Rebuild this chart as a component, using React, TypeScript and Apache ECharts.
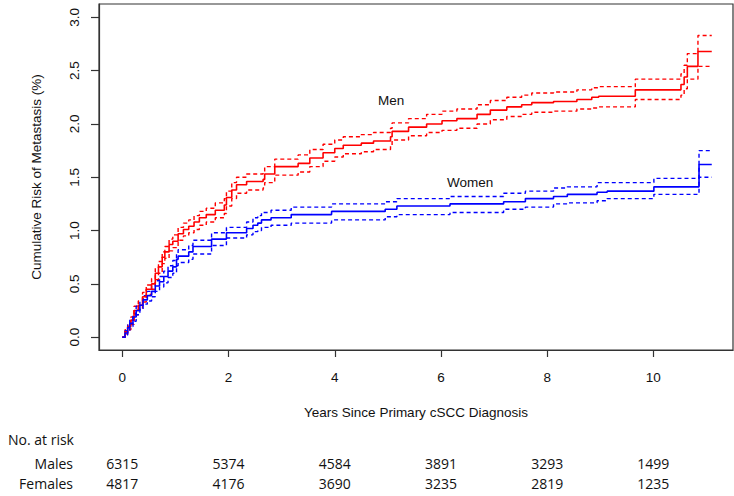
import React, { useEffect, useRef } from "react";
import * as echarts from "echarts";

// Tick values / risk table
const years = [0, 2, 4, 6, 8, 10];
const yTicks = [0, 0.5, 1, 1.5, 2, 2.5, 3];
const malesAtRisk = [6315, 5374, 4584, 3891, 3293, 1499];
const femalesAtRisk = [4817, 4176, 3690, 3235, 2819, 1235];

// Men: step times (years), cumulative risk (%), lower and upper 95% CI
const menTimes = [0, 0.05, 0.1, 0.16, 0.22, 0.3, 0.38, 0.45, 0.55, 0.62, 0.68, 0.75, 0.8, 0.88, 0.95, 1.05, 1.15, 1.25, 1.35, 1.45, 1.58, 1.75, 1.92, 1.96, 2.06, 2.15, 2.34, 2.65, 2.68, 2.87, 3.31, 3.53, 3.78, 4.0, 4.16, 4.5, 4.73, 5.05, 5.08, 5.39, 5.73, 6.02, 6.3, 6.68, 6.93, 7.24, 7.52, 7.71, 8.12, 8.56, 8.84, 8.97, 9.66, 10.52, 10.58, 10.64, 10.84, 11.1];
const menRisk = [0, 0.05, 0.1, 0.16, 0.25, 0.3, 0.38, 0.45, 0.5, 0.6, 0.66, 0.75, 0.8, 0.87, 0.9, 0.97, 1.01, 1.04, 1.08, 1.12, 1.15, 1.19, 1.24, 1.31, 1.38, 1.43, 1.46, 1.48, 1.53, 1.6, 1.63, 1.68, 1.73, 1.77, 1.8, 1.82, 1.84, 1.88, 1.93, 1.97, 2.0, 2.03, 2.05, 2.09, 2.13, 2.16, 2.18, 2.2, 2.21, 2.23, 2.25, 2.26, 2.32, 2.37, 2.44, 2.54, 2.68, 2.68];
const menLower = [0, 0.03, 0.07, 0.12, 0.21, 0.26, 0.33, 0.4, 0.45, 0.54, 0.6, 0.69, 0.74, 0.81, 0.84, 0.91, 0.95, 0.98, 1.01, 1.05, 1.08, 1.12, 1.16, 1.23, 1.3, 1.35, 1.38, 1.4, 1.45, 1.52, 1.55, 1.6, 1.65, 1.69, 1.72, 1.74, 1.76, 1.8, 1.85, 1.89, 1.92, 1.94, 1.96, 2.0, 2.04, 2.07, 2.09, 2.11, 2.12, 2.14, 2.15, 2.16, 2.23, 2.27, 2.33, 2.42, 2.54, 2.54];
const menUpper = [0, 0.07, 0.13, 0.19, 0.29, 0.34, 0.42, 0.49, 0.55, 0.65, 0.71, 0.8, 0.85, 0.92, 0.96, 1.03, 1.07, 1.1, 1.14, 1.18, 1.21, 1.26, 1.3, 1.37, 1.45, 1.5, 1.53, 1.55, 1.6, 1.67, 1.71, 1.76, 1.81, 1.85, 1.88, 1.9, 1.92, 1.96, 2.01, 2.05, 2.09, 2.12, 2.14, 2.18, 2.22, 2.25, 2.27, 2.29, 2.3, 2.32, 2.34, 2.35, 2.42, 2.47, 2.55, 2.66, 2.83, 2.83];

// Women
const womenTimes = [0, 0.05, 0.1, 0.14, 0.2, 0.26, 0.33, 0.39, 0.47, 0.55, 0.62, 0.7, 0.78, 0.86, 0.95, 1.02, 1.05, 1.25, 1.33, 1.68, 1.96, 2.34, 2.46, 2.55, 2.62, 2.8, 3.18, 3.94, 4.95, 5.17, 6.17, 7.18, 7.59, 8.12, 8.38, 8.94, 9.13, 10.01, 10.86, 11.1];
const womenRisk = [0, 0.04, 0.09, 0.13, 0.19, 0.25, 0.3, 0.35, 0.39, 0.43, 0.48, 0.52, 0.57, 0.62, 0.66, 0.73, 0.76, 0.8, 0.85, 0.92, 0.98, 1.02, 1.05, 1.07, 1.1, 1.12, 1.15, 1.18, 1.2, 1.23, 1.25, 1.27, 1.3, 1.32, 1.34, 1.36, 1.37, 1.41, 1.62, 1.62];
const womenLower = [0, 0.02, 0.06, 0.1, 0.15, 0.21, 0.26, 0.31, 0.34, 0.38, 0.43, 0.47, 0.51, 0.56, 0.6, 0.67, 0.7, 0.73, 0.78, 0.86, 0.93, 0.96, 0.99, 1.0, 1.03, 1.05, 1.07, 1.1, 1.13, 1.15, 1.17, 1.2, 1.22, 1.25, 1.26, 1.28, 1.3, 1.34, 1.5, 1.5];
const womenUpper = [0, 0.06, 0.12, 0.16, 0.22, 0.29, 0.34, 0.39, 0.43, 0.48, 0.53, 0.57, 0.62, 0.67, 0.72, 0.79, 0.82, 0.86, 0.91, 0.98, 1.03, 1.08, 1.12, 1.14, 1.17, 1.19, 1.22, 1.25, 1.27, 1.3, 1.32, 1.35, 1.37, 1.4, 1.41, 1.45, 1.45, 1.49, 1.75, 1.75];

const RED = "#ff0000";
const BLUE = "#0000ff";
const AXIS_FONT = "'Liberation Sans', Arial, sans-serif";
const TABLE_FONT = "'Open Sans', sans-serif";

const zip = (xs: number[], ys: number[]) => xs.map((x, i) => [x, ys[i]]);

const stepSeries = (name: string, data: number[][], color: string, dashed: boolean) => ({
  name,
  type: "line",
  step: "end",
  data,
  xAxisIndex: 0,
  yAxisIndex: 0,
  symbol: "none",
  silent: true,
  z: dashed ? 2 : 3,
  lineStyle: dashed
    ? { color, width: 1.4, type: [4, 3] }
    : { color, width: 1.6 },
});

const tableAxis = (values: number[], offset: number) => ({
  type: "value",
  gridIndex: 0,
  position: "bottom",
  min: -0.44,
  max: 11.5,
  offset,
  axisLine: { show: false, onZero: false },
  axisTick: { show: false },
  splitLine: { show: false },
  axisLabel: {
    customValues: years,
    margin: 0,
    color: "#111",
    fontSize: 14,
    fontFamily: TABLE_FONT,
    formatter: (v: number) => String(values[years.indexOf(v)] ?? ""),
  },
});

export default function App() {
  const ref = useRef<HTMLDivElement>(null);
  useEffect(() => {
    if (!ref.current) return;
    const chart = echarts.init(ref.current, null, { renderer: "svg" });
    chart.setOption({
      animation: false,
      backgroundColor: "#ffffff",
      grid: {
        left: 99,
        top: 4,
        right: 1,
        bottom: 146,
        show: true,
        borderColor: "#333",
        borderWidth: 1.2,
        backgroundColor: "transparent",
        outerBoundsMode: "none",
      },
      xAxis: [
        {
          type: "value",
          gridIndex: 0,
          position: "bottom",
          min: -0.44,
          max: 11.5,
          name: "Years Since Primary cSCC Diagnosis",
          nameLocation: "middle",
          nameGap: 55,
          nameTextStyle: { color: "#111", fontSize: 13.5, fontFamily: AXIS_FONT },
          axisLine: { show: true, onZero: false, lineStyle: { color: "#333", width: 1.2 } },
          axisTick: { show: true, customValues: years, length: 7, inside: false, lineStyle: { color: "#333", width: 1.2 } },
          axisLabel: { customValues: years, margin: 20, color: "#111", fontSize: 13.5, fontFamily: AXIS_FONT },
          splitLine: { show: false },
        },
        tableAxis(malesAtRisk, 106),
        tableAxis(femalesAtRisk, 126),
      ],
      yAxis: [
        {
          type: "value",
          min: -0.12,
          max: 3.125,
          name: "Cumulative Risk of Metastasis (%)",
          nameLocation: "middle",
          nameGap: 56,
          nameRotate: 90,
          nameTextStyle: { color: "#111", fontSize: 13.5, fontFamily: AXIS_FONT },
          axisLine: { show: true, onZero: false, lineStyle: { color: "#333", width: 1.2 } },
          axisTick: { show: true, customValues: yTicks, length: 8, inside: false, lineStyle: { color: "#333", width: 1.2 } },
          axisLabel: {
            customValues: yTicks,
            rotate: 90,
            margin: 18,
            color: "#111",
            fontSize: 13.5,
            fontFamily: AXIS_FONT,
            formatter: (v: number) => v.toFixed(1),
          },
          splitLine: { show: false },
        },
      ],
      graphic: [
        { type: "text", left: 378, top: 93, style: { text: "Men", fill: "#111", fontSize: 13.5, fontFamily: AXIS_FONT } },
        { type: "text", left: 447, top: 175, style: { text: "Women", fill: "#111", fontSize: 13.5, fontFamily: AXIS_FONT } },
        { type: "text", left: 8, top: 432, style: { text: "No. at risk", fill: "#111", fontSize: 14, fontFamily: TABLE_FONT } },
        { type: "text", right: 734 - 73, top: 456, style: { text: "Males", fill: "#111", fontSize: 14, fontFamily: TABLE_FONT } },
        { type: "text", right: 734 - 73, top: 476, style: { text: "Females", fill: "#111", fontSize: 14, fontFamily: TABLE_FONT } },
      ],
      series: [
        stepSeries("Men lower", zip(menTimes, menLower), RED, true),
        stepSeries("Men upper", zip(menTimes, menUpper), RED, true),
        stepSeries("Women lower", zip(womenTimes, womenLower), BLUE, true),
        stepSeries("Women upper", zip(womenTimes, womenUpper), BLUE, true),
        stepSeries("Men", zip(menTimes, menRisk), RED, false),
        stepSeries("Women", zip(womenTimes, womenRisk), BLUE, false),
      ],
    });
    return () => chart.dispose();
  }, []);
  return (
    <div
      ref={ref}
      style={{ position: "fixed", left: 0, top: 0, width: 734, height: 496, background: "#fff" }}
    />
  );
}
